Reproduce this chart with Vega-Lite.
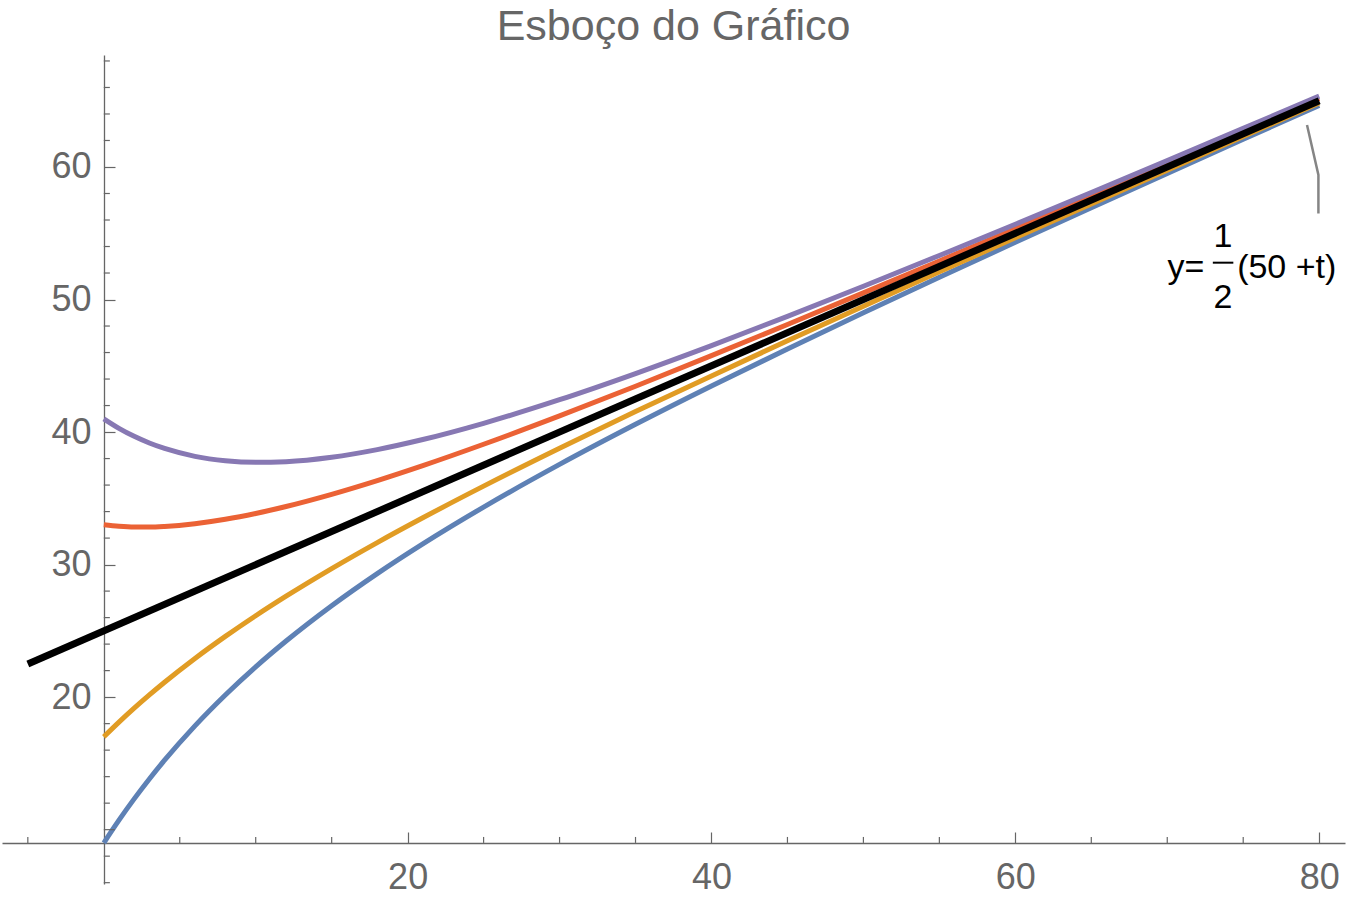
{
  "$schema": "https://vega.github.io/schema/vega-lite/v6.json",
  "width": 1343,
  "height": 829,
  "autosize": {"type": "none"},
  "padding": {"left": 2, "top": 55, "right": 5, "bottom": 19},
  "background": "white",
  "title": {"text": "Esboço do Gráfico", "fontSize": 43, "font": "Liberation Sans", "fontWeight": "normal", "color": "#666666", "anchor": "middle", "offset": 6},
  "config": {"view": {"stroke": null}},
  "datasets": {
    "curves": [
      {"t": 0, "y": 9, "s": "a"}, {"t": 1, "y": 10.718, "s": "a"}, {"t": 2, "y": 12.323, "s": "a"}, {"t": 3, "y": 13.827, "s": "a"}, {"t": 4, "y": 15.24, "s": "a"}, {"t": 6, "y": 17.832, "s": "a"}, {"t": 8, "y": 20.163, "s": "a"}, {"t": 10, "y": 22.284, "s": "a"}, {"t": 12, "y": 24.232, "s": "a"}, {"t": 15, "y": 26.898, "s": "a"}, {"t": 18, "y": 29.323, "s": "a"}, {"t": 21, "y": 31.565, "s": "a"}, {"t": 25, "y": 34.34, "s": "a"}, {"t": 30, "y": 37.559, "s": "a"}, {"t": 35, "y": 40.584, "s": "a"}, {"t": 40, "y": 43.476, "s": "a"}, {"t": 45, "y": 46.272, "s": "a"}, {"t": 50, "y": 49.0, "s": "a"}, {"t": 55, "y": 51.677, "s": "a"}, {"t": 60, "y": 54.317, "s": "a"}, {"t": 65, "y": 56.928, "s": "a"}, {"t": 70, "y": 59.518, "s": "a"}, {"t": 75, "y": 62.09, "s": "a"}, {"t": 80, "y": 64.65, "s": "a"},
      {"t": 0, "y": 17, "s": "b"}, {"t": 1, "y": 18.109, "s": "b"}, {"t": 2, "y": 19.162, "s": "b"}, {"t": 3, "y": 20.163, "s": "b"}, {"t": 4, "y": 21.12, "s": "b"}, {"t": 6, "y": 22.916, "s": "b"}, {"t": 8, "y": 24.582, "s": "b"}, {"t": 10, "y": 26.142, "s": "b"}, {"t": 12, "y": 27.616, "s": "b"}, {"t": 15, "y": 29.699, "s": "b"}, {"t": 18, "y": 31.662, "s": "b"}, {"t": 21, "y": 33.532, "s": "b"}, {"t": 25, "y": 35.92, "s": "b"}, {"t": 30, "y": 38.779, "s": "b"}, {"t": 35, "y": 41.542, "s": "b"}, {"t": 40, "y": 44.238, "s": "b"}, {"t": 45, "y": 46.886, "s": "b"}, {"t": 50, "y": 49.5, "s": "b"}, {"t": 55, "y": 52.089, "s": "b"}, {"t": 60, "y": 54.658, "s": "b"}, {"t": 65, "y": 57.214, "s": "b"}, {"t": 70, "y": 59.759, "s": "b"}, {"t": 75, "y": 62.295, "s": "b"}, {"t": 80, "y": 64.825, "s": "b"},
      {"t": 0, "y": 33, "s": "c"}, {"t": 1, "y": 32.891, "s": "c"}, {"t": 2, "y": 32.838, "s": "c"}, {"t": 3, "y": 32.837, "s": "c"}, {"t": 4, "y": 32.88, "s": "c"}, {"t": 6, "y": 33.084, "s": "c"}, {"t": 8, "y": 33.418, "s": "c"}, {"t": 10, "y": 33.858, "s": "c"}, {"t": 12, "y": 34.384, "s": "c"}, {"t": 15, "y": 35.301, "s": "c"}, {"t": 18, "y": 36.338, "s": "c"}, {"t": 21, "y": 37.468, "s": "c"}, {"t": 25, "y": 39.08, "s": "c"}, {"t": 30, "y": 41.221, "s": "c"}, {"t": 35, "y": 43.458, "s": "c"}, {"t": 40, "y": 45.762, "s": "c"}, {"t": 45, "y": 48.114, "s": "c"}, {"t": 50, "y": 50.5, "s": "c"}, {"t": 55, "y": 52.911, "s": "c"}, {"t": 60, "y": 55.342, "s": "c"}, {"t": 65, "y": 57.786, "s": "c"}, {"t": 70, "y": 60.241, "s": "c"}, {"t": 75, "y": 62.705, "s": "c"}, {"t": 80, "y": 65.175, "s": "c"},
      {"t": 0, "y": 41, "s": "d"}, {"t": 1, "y": 40.282, "s": "d"}, {"t": 2, "y": 39.677, "s": "d"}, {"t": 3, "y": 39.173, "s": "d"}, {"t": 4, "y": 38.76, "s": "d"}, {"t": 6, "y": 38.168, "s": "d"}, {"t": 8, "y": 37.837, "s": "d"}, {"t": 10, "y": 37.716, "s": "d"}, {"t": 12, "y": 37.768, "s": "d"}, {"t": 15, "y": 38.102, "s": "d"}, {"t": 18, "y": 38.677, "s": "d"}, {"t": 21, "y": 39.435, "s": "d"}, {"t": 25, "y": 40.66, "s": "d"}, {"t": 30, "y": 42.441, "s": "d"}, {"t": 35, "y": 44.416, "s": "d"}, {"t": 40, "y": 46.524, "s": "d"}, {"t": 45, "y": 48.728, "s": "d"}, {"t": 50, "y": 51.0, "s": "d"}, {"t": 55, "y": 53.323, "s": "d"}, {"t": 60, "y": 55.683, "s": "d"}, {"t": 65, "y": 58.072, "s": "d"}, {"t": 70, "y": 60.482, "s": "d"}, {"t": 75, "y": 62.91, "s": "d"}, {"t": 80, "y": 65.35, "s": "d"}
    ],
    "equilibrium": [{"t": -5, "y": 22.5}, {"t": 80, "y": 65}],
    "callout": [{"t": 79.2, "y": 63.17, "k": 1}, {"t": 79.95, "y": 59.4, "k": 2}, {"t": 79.95, "y": 56.5, "k": 3}],
    "bar": [{"t": 73.0, "y": 52.78}, {"t": 74.35, "y": 52.78}],
    "lhs": [{"t": 72.45, "y": 51.62, "label": "y="}],
    "rhs": [{"t": 74.6, "y": 51.62, "label": "(50 +t)"}],
    "frac": [{"t": 73.67, "y": 53.99, "label": "1"}, {"t": 73.67, "y": 49.33, "label": "2"}],
    "xminor": [{"t": -5}, {"t": 5}, {"t": 10}, {"t": 15}, {"t": 25}, {"t": 30}, {"t": 35}, {"t": 45}, {"t": 50}, {"t": 55}, {"t": 65}, {"t": 70}, {"t": 75}],
    "yminor": [{"y": 6}, {"y": 8}, {"y": 12}, {"y": 14}, {"y": 16}, {"y": 18}, {"y": 22}, {"y": 24}, {"y": 26}, {"y": 28}, {"y": 32}, {"y": 34}, {"y": 36}, {"y": 38}, {"y": 42}, {"y": 44}, {"y": 46}, {"y": 48}, {"y": 52}, {"y": 54}, {"y": 56}, {"y": 58}, {"y": 62}, {"y": 64}, {"y": 66}, {"y": 68}],
    "ymajor": [{"y": 10}]
  },
  "layer": [
    {
      "data": {"name": "curves"},
      "mark": {"type": "line", "interpolate": "monotone", "strokeWidth": 5},
      "encoding": {
        "x": {
          "field": "t", "type": "quantitative",
          "scale": {"domain": [-6.7, 81.7], "nice": false, "zero": false},
          "axis": {
            "title": null, "orient": "bottom", "offset": -41, "grid": false,
            "values": [20, 40, 60, 80],
            "tickSize": -11, "tickColor": "#666666", "tickWidth": 1.2,
            "domainColor": "#666666", "domainWidth": 1.3,
            "labelFont": "Liberation Sans", "labelFontSize": 36, "labelColor": "#666666",
            "labelPadding": 28, "labelFlush": false, "labelBound": false
          }
        },
        "y": {
          "field": "y", "type": "quantitative",
          "scale": {"domain": [5.9, 68.45], "nice": false, "zero": false},
          "axis": {
            "title": null, "orient": "left", "offset": -102, "grid": false,
            "values": [20, 30, 40, 50, 60],
            "tickSize": -11, "tickColor": "#666666", "tickWidth": 1.2,
            "domainColor": "#666666", "domainWidth": 1.3,
            "labelFont": "Liberation Sans", "labelFontSize": 36, "labelColor": "#666666",
            "labelPadding": 24, "labelFlush": false, "labelBound": false
          }
        },
        "color": {
          "field": "s", "type": "nominal", "legend": null,
          "scale": {"domain": ["a", "b", "c", "d"], "range": ["#5E81B5", "#E19C24", "#EB6235", "#8778B3"]}
        }
      }
    },
    {
      "data": {"name": "xminor"},
      "mark": {"type": "rule", "color": "#666666", "strokeWidth": 1.2},
      "encoding": {
        "x": {"field": "t", "type": "quantitative"},
        "y": {"datum": 9},
        "y2": {"datum": 9.45}
      }
    },
    {
      "data": {"name": "yminor"},
      "mark": {"type": "rule", "color": "#666666", "strokeWidth": 1.2},
      "encoding": {
        "y": {"field": "y", "type": "quantitative"},
        "x": {"datum": 0},
        "x2": {"datum": 0.4}
      }
    },
    {
      "data": {"name": "ymajor"},
      "mark": {"type": "rule", "color": "#666666", "strokeWidth": 1.2},
      "encoding": {
        "y": {"field": "y", "type": "quantitative"},
        "x": {"datum": 0},
        "x2": {"datum": 0.72}
      }
    },
    {
      "data": {"name": "equilibrium"},
      "mark": {"type": "line", "color": "black", "strokeWidth": 7},
      "encoding": {
        "x": {"field": "t", "type": "quantitative"},
        "y": {"field": "y", "type": "quantitative"}
      }
    },
    {
      "data": {"name": "callout"},
      "mark": {"type": "line", "color": "#858585", "strokeWidth": 2.5},
      "encoding": {
        "x": {"field": "t", "type": "quantitative"},
        "y": {"field": "y", "type": "quantitative"},
        "order": {"field": "k"}
      }
    },
    {
      "data": {"name": "bar"},
      "mark": {"type": "line", "color": "black", "strokeWidth": 2},
      "encoding": {
        "x": {"field": "t", "type": "quantitative"},
        "y": {"field": "y", "type": "quantitative"}
      }
    },
    {
      "data": {"name": "lhs"},
      "mark": {"type": "text", "font": "Liberation Sans", "fontSize": 34, "color": "black", "baseline": "alphabetic", "align": "right"},
      "encoding": {
        "x": {"field": "t", "type": "quantitative"},
        "y": {"field": "y", "type": "quantitative"},
        "text": {"field": "label"}
      }
    },
    {
      "data": {"name": "rhs"},
      "mark": {"type": "text", "font": "Liberation Sans", "fontSize": 34, "color": "black", "baseline": "alphabetic", "align": "left"},
      "encoding": {
        "x": {"field": "t", "type": "quantitative"},
        "y": {"field": "y", "type": "quantitative"},
        "text": {"field": "label"}
      }
    },
    {
      "data": {"name": "frac"},
      "mark": {"type": "text", "font": "Liberation Sans", "fontSize": 34, "color": "black", "baseline": "alphabetic", "align": "center"},
      "encoding": {
        "x": {"field": "t", "type": "quantitative"},
        "y": {"field": "y", "type": "quantitative"},
        "text": {"field": "label"}
      }
    }
  ]
}
